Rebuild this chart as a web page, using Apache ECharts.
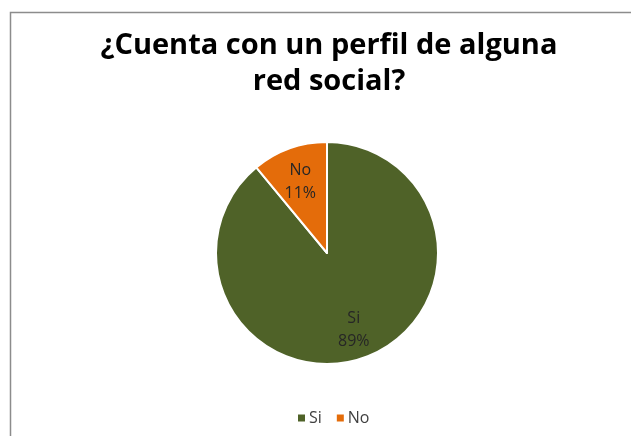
<!DOCTYPE html>
<html>
<head>
<meta charset="utf-8">
<script src="https://cdn.jsdelivr.net/npm/echarts@6/dist/echarts.min.js"></script>
<style>
  html, body { margin: 0; padding: 0; background: #fff; }
  #chart { width: 631px; height: 436px; }
</style>
</head>
<body>
<div id="chart"></div>
<script>
  var categories = ['Si', 'No'];
  var percents = [89, 11];
  var colors = ['#4F6228', '#E46C0A'];

  var pieData = categories.map(function (name, i) {
    return { name: name, value: percents[i], itemStyle: { color: colors[i] } };
  });

  var myChart = echarts.init(document.getElementById('chart'));
  myChart.setOption({
    animation: false,
    title: {
      text: '¿Cuenta con un perfil de alguna\nred social?',
      left: 324,
      textAlign: 'center',
      top: 23,
      textStyle: {
        fontFamily: 'Open Sans',
        fontWeight: 'bold',
        fontSize: 29,
        lineHeight: 36,
        color: '#000'
      }
    },
    graphic: [{
      type: 'rect',
      shape: { x: 10.5, y: 12.5, width: 700, height: 500 },
      style: { fill: 'none', stroke: '#8c8c8c', lineWidth: 1.5 },
      silent: true
    }],
    legend: {
      top: 405,
      left: 291,
      itemWidth: 9,
      itemHeight: 9,
      itemGap: 13,
      icon: 'rect',
      textStyle: { fontFamily: 'Open Sans', fontSize: 16, color: '#404040', padding: [0, 0, 0, -2] },
      data: categories
    },
    series: [
      {
        //饼图本体
        type: 'pie',
        center: [327, 253],
        radius: [0, 111],
        startAngle: 90,
        clockwise: true,
        label: { show: false },
        labelLine: { show: false },
        itemStyle: { borderColor: '#fff', borderWidth: 2 },
        data: pieData
      },
      {
        //只用来放标签
        type: 'pie',
        center: [327, 256],
        radius: [0, 152],
        startAngle: 90,
        clockwise: true,
        silent: true,
        z: 3,
        itemStyle: { color: 'transparent' },
        label: {
          show: true,
          position: 'inside',
          formatter: '{b}\n{c}%',
          fontFamily: 'Open Sans',
          fontSize: 16,
          lineHeight: 23,
          color: '#262626'
        },
        labelLine: { show: false },
        data: categories.map(function (name, i) { return { name: name, value: percents[i] }; })
      }
    ]
  });
</script>
</body>
</html>
